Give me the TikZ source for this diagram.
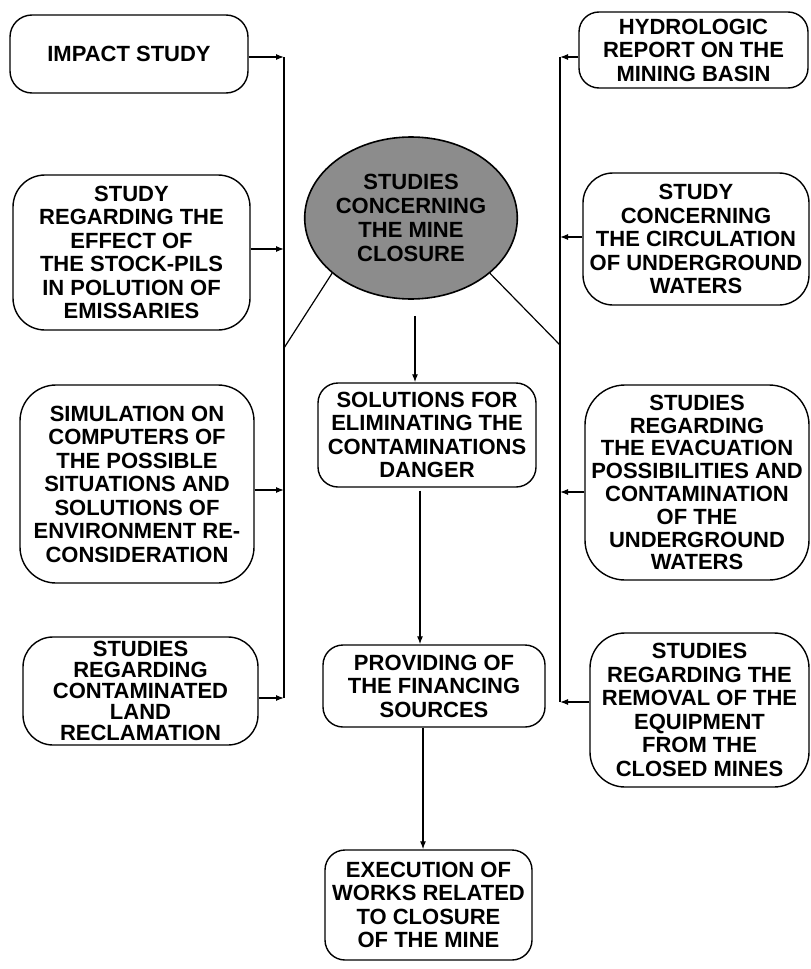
\documentclass[tikz,border=0pt]{standalone}
\usepackage{fontspec}
\setmainfont{Liberation Sans}
\usetikzlibrary{arrows.meta,shapes.geometric}
\begin{document}
\begin{tikzpicture}[x=1pt,y=-1pt,
  box/.style={draw, line width=1.4pt, rounded corners=#1, align=center, inner sep=0pt,
    font=\bfseries\fontsize{22}{23.5}\selectfont},
  box/.default=28pt,
  conn/.style={line width=1.2pt},
  arr/.style={line width=1.2pt, -{Latex[length=8pt,width=6pt]}}]
\useasboundingbox (0,0) rectangle (811,969);
% left column
\node[box=22pt, minimum width=238pt, minimum height=78pt] (impact) at (129,54) {IMPACT STUDY};
\node[box=32pt, minimum width=237pt, minimum height=155pt] (regard) at (131.5,252.5)
  {STUDY\\REGARDING THE\\EFFECT OF\\THE STOCK-PILS\\IN POLUTION OF\\EMISSARIES};
\node[box=36pt, minimum width=234pt, minimum height=198pt] (simul) at (137,484)
  {SIMULATION ON\\COMPUTERS OF\\THE POSSIBLE\\SITUATIONS AND\\SOLUTIONS OF\\ENVIRONMENT RE-\\CONSIDERATION};
\node[box=30pt, minimum width=235pt, minimum height=108pt, font=\bfseries\fontsize{22}{21}\selectfont] (land) at (140.5,691)
  {STUDIES\\REGARDING\\CONTAMINATED\\LAND\\RECLAMATION};
% right column
\node[box=20pt, minimum width=229pt, minimum height=76pt] (hydro) at (693.5,50)
  {HYDROLOGIC\\REPORT ON THE\\MINING BASIN};
\node[box=30pt, minimum width=226pt, minimum height=132pt] (circul) at (696,239)
  {STUDY\\CONCERNING\\THE CIRCULATION\\OF UNDERGROUND\\WATERS};
\node[box=40pt, minimum width=224pt, minimum height=195pt, font=\bfseries\fontsize{22}{22.8}\selectfont] (evac) at (697,482.5)
  {STUDIES\\REGARDING\\THE EVACUATION\\POSSIBILITIES AND\\CONTAMINATION\\OF THE\\UNDERGROUND\\WATERS};
\node[box=35pt, minimum width=219pt, minimum height=154pt] (remov) at (699.5,710)
  {STUDIES\\REGARDING THE\\REMOVAL OF THE\\EQUIPMENT\\FROM THE\\CLOSED MINES};
% centre column
\node[ellipse, draw, line width=1.6pt, fill=black!45, minimum width=176pt, minimum height=162pt,
  inner sep=0pt, align=center, font=\bfseries\fontsize{22}{24}\selectfont] (circ) at (411,218)
  {STUDIES\\CONCERNING\\THE MINE\\CLOSURE};
\node[box=20pt, minimum width=218pt, minimum height=104pt] (sol) at (427,435)
  {SOLUTIONS FOR\\ELIMINATING THE\\CONTAMINATIONS\\DANGER};
\node[box=20pt, minimum width=222pt, minimum height=82pt] (prov) at (434,686)
  {PROVIDING OF\\THE FINANCING\\SOURCES};
\node[box=20pt, minimum width=207pt, minimum height=110pt] (exec) at (428.5,905)
  {EXECUTION OF\\WORKS RELATED\\TO CLOSURE\\OF THE MINE};
% bus coordinates
\coordinate (lb1) at (284,57);
\coordinate (lb2) at (284,249);
\coordinate (lbd) at (284,348);
\coordinate (lb3) at (284,490);
\coordinate (lb4) at (284,698);
\coordinate (rb1) at (560,57);
\coordinate (rb2) at (560,237);
\coordinate (rbd) at (560,345);
\coordinate (rb3) at (560,492);
\coordinate (rb4) at (560,702);
\coordinate (c1) at (415,0);
\coordinate (c2) at (420,0);
\coordinate (c3) at (423,0);
% buses
\draw[conn] (lb1) -- (lb4);
\draw[conn] (rb1) -- (rb4);
% left arrows
\draw[arr] (impact.east |- lb1) -- (lb1);
\draw[arr] (regard.east |- lb2) -- (lb2);
\draw[arr] (simul.east |- lb3) -- (lb3);
\draw[arr] (land.east |- lb4) -- (lb4);
% right arrows
\draw[arr] (hydro.west |- rb1) -- (rb1);
\draw[arr] (circul.west |- rb2) -- (rb2);
\draw[arr] (evac.west |- rb3) -- (rb3);
\draw[arr] (remov.west |- rb4) -- (rb4);
% diagonals from circle
\draw[conn] (circ.215) -- (lbd);
\draw[conn] (circ.325) -- (rbd);
% centre arrows
\draw[arr, shorten <=16pt] (circ.south -| c1) -- (sol.north -| c1);
\draw[arr, shorten <=3pt] (sol.south -| c2) -- (prov.north -| c2);
\draw[arr] (prov.south -| c3) -- (exec.north -| c3);
\end{tikzpicture}
\end{document}
